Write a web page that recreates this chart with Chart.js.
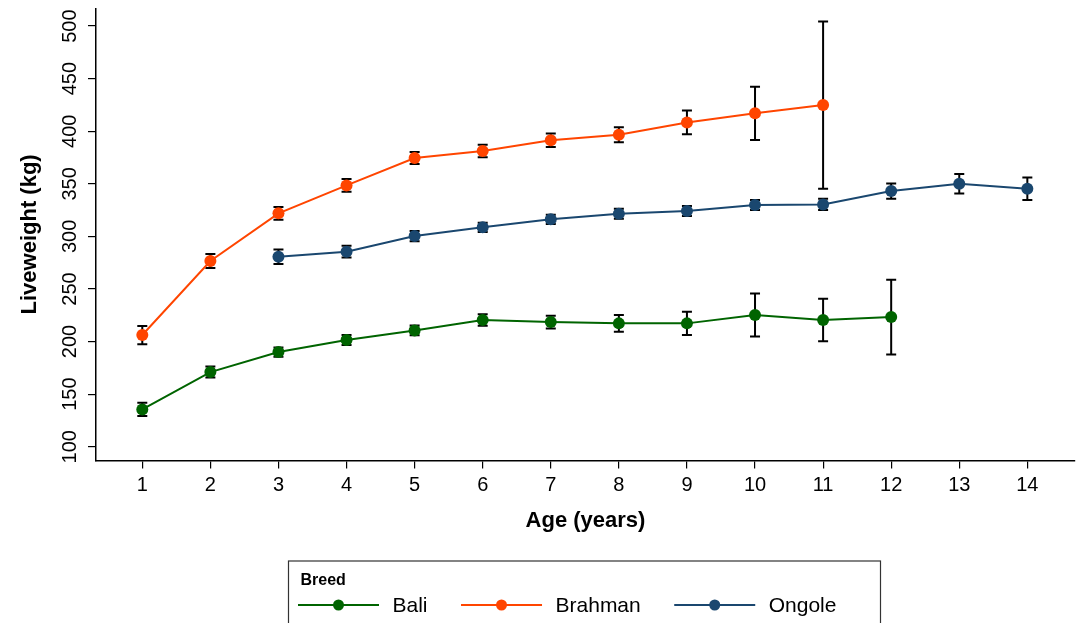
<!DOCTYPE html>
<html>
<head>
<meta charset="utf-8">
<script src="https://cdn.jsdelivr.net/npm/chart.js@4"></script>
<style>
  html, body { margin: 0; padding: 0; background: #fff; }
  #wrap { width: 1082px; height: 623px; }
</style>
</head>
<body>
<div id="wrap"><canvas id="chart"></canvas></div>
<script>
// datos
const breeds = ['Bali', 'Brahman', 'Ongole'];
const colores = ['#006400', '#ff4500', '#1a476f'];

const baliAge = [1, 2, 3, 4, 5, 6, 7, 8, 9, 10, 11, 12];
const baliMean = [135.5, 171.0, 190.0, 201.5, 210.6, 220.5, 218.5, 217.3, 217.3, 225.2, 220.5, 223.3];
const baliErr = [6.4, 5.2, 4.4, 4.8, 4.6, 5.4, 6.0, 8.0, 11.0, 20.5, 20.3, 35.5];

const brahmanAge = [1, 2, 3, 4, 5, 6, 7, 8, 9, 10, 11];
const brahmanMean = [206.2, 276.6, 321.9, 348.5, 374.5, 381.2, 391.5, 396.7, 408.4, 417.0, 424.9];
const brahmanErr = [8.7, 6.6, 6.0, 6.0, 5.7, 6.0, 6.4, 7.1, 11.3, 25.3, 79.5];

const ongoleAge = [3, 4, 5, 6, 7, 8, 9, 10, 11, 12, 13, 14];
const ongoleMean = [280.7, 285.5, 300.3, 308.6, 316.2, 321.6, 324.1, 329.8, 330.4, 343.1, 350.1, 345.3];
const ongoleErr = [6.9, 5.5, 4.9, 4.4, 4.3, 4.8, 4.8, 4.8, 5.4, 7.3, 9.2, 10.6];

const xTicks = [1, 2, 3, 4, 5, 6, 7, 8, 9, 10, 11, 12, 13, 14];
const yTicks = [100, 150, 200, 250, 300, 350, 400, 450, 500];

const FONT = '"Liberation Sans", Arial, Helvetica, sans-serif';

function puntos(ages, means, errs) {
    return ages.map((a, i) => ({ x: a, y: means[i], err: errs[i] }));
}

const series = [
    puntos(baliAge, baliMean, baliErr),
    puntos(brahmanAge, brahmanMean, brahmanErr),
    puntos(ongoleAge, ongoleMean, ongoleErr)
];

// barras de error (detrás de líneas y marcadores)
const errorBars = {
    id: 'errorBars',
    beforeDatasetsDraw(chart) {
        const ctx = chart.ctx;
        const xs = chart.scales.x, ys = chart.scales.y;
        ctx.save();
        ctx.strokeStyle = '#000';
        ctx.lineWidth = 2;
        chart.data.datasets.forEach(ds => {
            ds.data.forEach(p => {
                const px = xs.getPixelForValue(p.x);
                const top = ys.getPixelForValue(p.y + p.err);
                const bot = ys.getPixelForValue(p.y - p.err);
                ctx.beginPath();
                ctx.moveTo(px, top); ctx.lineTo(px, bot);
                ctx.moveTo(px - 5, top); ctx.lineTo(px + 5, top);
                ctx.moveTo(px - 5, bot); ctx.lineTo(px + 5, bot);
                ctx.stroke();
            });
        });
        ctx.restore();
    }
};

// leyenda con recuadro, estilo Stata
const legendBox = {
    id: 'legendBox',
    afterDraw(chart) {
        const ctx = chart.ctx;
        ctx.save();
        ctx.strokeStyle = '#333';
        ctx.lineWidth = 1.2;
        ctx.strokeRect(288.5, 561, 592, 70);
        ctx.fillStyle = '#000';
        ctx.font = 'bold 16px ' + FONT;
        ctx.textBaseline = 'alphabetic';
        ctx.fillText('Breed', 300.5, 585);
        ctx.font = '21px ' + FONT;
        ctx.textBaseline = 'middle';
        let x = 298;
        const y = 605;
        chart.data.datasets.forEach(ds => {
            ctx.strokeStyle = ds.borderColor;
            ctx.lineWidth = 2;
            ctx.beginPath();
            ctx.moveTo(x, y); ctx.lineTo(x + 81, y);
            ctx.stroke();
            ctx.fillStyle = ds.borderColor;
            ctx.beginPath();
            ctx.arc(x + 40.5, y, 5.5, 0, Math.PI * 2);
            ctx.fill();
            ctx.fillStyle = '#000';
            ctx.fillText(ds.label, x + 94.5, y + 1);
            x = x + 94.5 + ctx.measureText(ds.label).width + 33.5;
        });
        ctx.restore();
    }
};

new Chart(document.getElementById('chart'), {
    type: 'line',
    data: {
        datasets: breeds.map((b, i) => ({
            label: b,
            data: series[i],
            borderColor: colores[i],
            backgroundColor: colores[i],
            borderWidth: 2,
            pointRadius: 6,
            pointBorderWidth: 0,
            pointHoverRadius: 6,
            tension: 0,
            fill: false
        }))
    },
    options: {
        responsive: true,
        maintainAspectRatio: false,
        animation: false,
        events: [],
        layout: { padding: { top: 8.3, right: 7, bottom: 82.5, left: 0 } },
        plugins: {
            legend: { display: false },
            tooltip: { enabled: false }
        },
        scales: {
            x: {
                type: 'linear',
                min: 0.32,
                max: 14.7,
                afterBuildTicks: s => { s.ticks = xTicks.map(v => ({ value: v })); },
                afterFit: s => { s.height = 80; s.paddingLeft = 0; s.paddingRight = 0; },
                grid: { drawOnChartArea: false, drawTicks: true, tickLength: 8, color: '#000', lineWidth: 1.2 },
                border: { display: true, color: '#000', width: 1.5 },
                ticks: {
                    color: '#000',
                    padding: 5,
                    maxRotation: 0,
                    autoSkip: false,
                    font: { family: FONT, size: 20 }
                },
                title: {
                    display: true,
                    text: 'Age (years)',
                    color: '#000',
                    padding: { top: 0, bottom: 6.7 },
                    font: { family: FONT, size: 22, weight: 'bold' }
                }
            },
            y: {
                min: 86.9,
                max: 516.9,
                afterBuildTicks: s => { s.ticks = yTicks.map(v => ({ value: v })); },
                afterFit: s => { s.width = 96; s.paddingTop = 0; s.paddingBottom = 0; },
                grid: { drawOnChartArea: false, drawTicks: true, tickLength: 8, color: '#000', lineWidth: 1.2 },
                border: { display: true, color: '#000', width: 1.5 },
                ticks: {
                    color: '#000',
                    padding: 0.5,
                    minRotation: 90,
                    maxRotation: 90,
                    crossAlign: 'center',
                    autoSkip: false,
                    font: { family: FONT, size: 20 }
                },
                title: {
                    display: true,
                    text: 'Liveweight (kg)',
                    color: '#000',
                    padding: { top: 16.5, bottom: 0 },
                    font: { family: FONT, size: 22, weight: 'bold' }
                }
            }
        }
    },
    plugins: [errorBars, legendBox]
});
</script>
</body>
</html>
